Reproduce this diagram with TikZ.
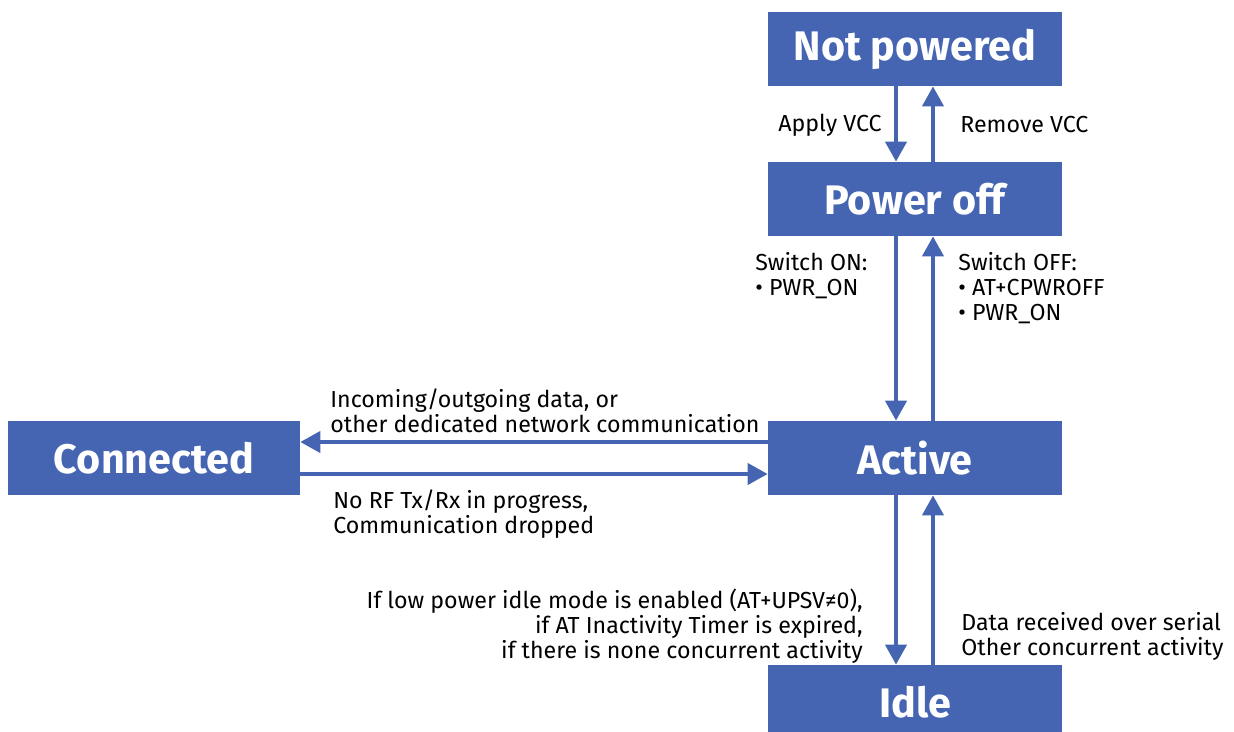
\documentclass[tikz,border=0pt]{standalone}
\usepackage{fontspec}
\setmainfont{Fira Sans}
\usetikzlibrary{arrows.meta}
\definecolor{ubxblue}{RGB}{69,101,178}
\tikzset{
  state/.style={fill=ubxblue, text=white, minimum width=5.88cm, minimum height=1.48cm,
    font=\fontsize{23.5}{26}\selectfont\bfseries},
  flow/.style={ubxblue, line width=0.08cm, -{Triangle[width=0.42cm,length=0.4cm]}},
  lbl/.style={font=\fontsize{13.2}{14.23}\selectfont, inner sep=0pt, align=left}
}
\begin{document}
\begin{tikzpicture}[x=0.02cm, y=-0.02cm]
\clip (0,0) rectangle (1234,731);
\useasboundingbox (0,0) rectangle (1234,731);

% states
\node[state] (np) at (915,49) {Not powered};
\node[state] (po) at (915,199) {Power off};
\node[state] (ac) at (915,458) {Active};
\node[state, minimum width=5.84cm] (cn) at (154,458) {Connected};
\node[state] (id) at (915,702) {Idle};

% transitions
\draw[flow] ([xshift=-0.38cm]np.south) -- ([xshift=-0.38cm]po.north);
\draw[flow] ([xshift=0.36cm]po.north) -- ([xshift=0.36cm]np.south);
\draw[flow] ([xshift=-0.38cm]po.south) -- ([xshift=-0.38cm]ac.north);
\draw[flow] ([xshift=0.36cm]ac.north) -- ([xshift=0.36cm]po.south);
\draw[flow] ([yshift=0.32cm]ac.west) -- ([yshift=0.32cm]cn.east);
\draw[flow] ([yshift=-0.32cm]cn.east) -- ([yshift=-0.32cm]ac.west);
\draw[flow] ([xshift=-0.38cm]ac.south) -- ([xshift=-0.38cm]id.north);
\draw[flow] ([xshift=0.36cm]id.north) -- ([xshift=0.36cm]ac.south);

% labels
\node[lbl, anchor=east] (l1) at (882,125) {Apply VCC};
\node[lbl, anchor=west] (l2) at (960,125) {Remove VCC};
\node[lbl, anchor=north west] (l3) at (755,252) {Switch ON:\\\textbullet\ PWR\_ON};
\node[lbl, anchor=north west] (l4) at (958,252) {Switch OFF:\\\textbullet\ AT+CPWROFF\\\textbullet\ PWR\_ON};
\node[lbl, anchor=north west] (l5) at (330,388) {Incoming/outgoing data, or\\other dedicated network communication};
\node[lbl, anchor=north west] (l6) at (333,489) {No RF Tx/Rx in progress,\\Communication dropped};
\node[lbl, anchor=north east, align=right] (l7) at (863,589) {If low power idle mode is enabled (AT+UPSV≠0),\\if AT Inactivity Timer is expired,\\if there is none concurrent activity};
\node[lbl, anchor=north west] (l8) at (961,612) {Data received over serial\\Other concurrent activity};
\end{tikzpicture}
\end{document}
